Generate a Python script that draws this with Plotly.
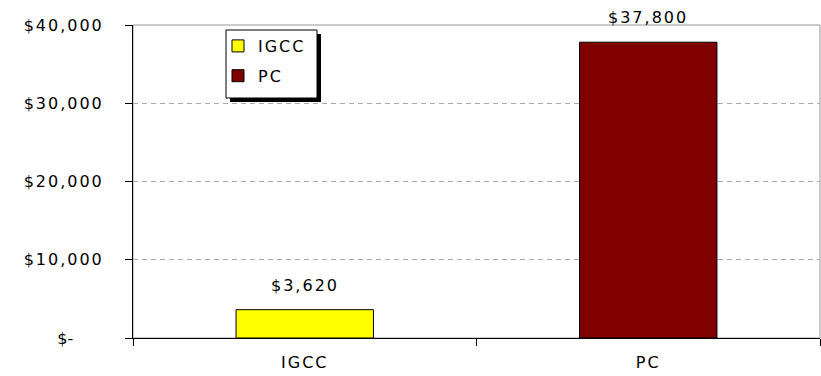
import plotly.graph_objects as go

# Cost comparison, in dollars
categories = ["IGCC", "PC"]
values = [3620, 37800]
bar_colors = ["#FFFF00", "#800000"]
value_labels = ["$3,620", "$37,800"]

y_tickvals = [0, 10000, 20000, 30000, 40000]
y_ticktext = ["$-\u2007\u2007\u2007", "$10,000", "$20,000", "$30,000", "$40,000"]

FONT = "DejaVu Sans"
FS = 16
W, H = 821, 376
L, R, T, B = 133, 1, 25, 38

fig = go.Figure()
for i, (cat, val, col) in enumerate(zip(categories, values, bar_colors)):
    fig.add_trace(go.Bar(
        x=[cat], y=[val], name=cat, width=0.4,
        marker=dict(color=col, line=dict(color="#000000", width=1)),
        legendgroup=f"g{i}",
    ))

for cat, val, lab in zip(categories, values, value_labels):
    fig.add_annotation(x=cat, y=val, text=lab, showarrow=False,
                       yanchor="bottom", yshift=13,
                       font=dict(family=FONT, size=FS, color="#000000"))

pw = W - L - R
ph = H - T - B

def px_x(p):
    return (p - L) / pw

def px_y(p):
    return (H - B - p) / ph

# legend frame with drop shadow
fig.add_shape(type="rect", xref="paper", yref="paper",
              x0=px_x(230), x1=px_x(321), y0=px_y(102), y1=px_y(34),
              fillcolor="#000000", line=dict(width=0), layer="above")
fig.add_shape(type="rect", xref="paper", yref="paper",
              x0=px_x(226), x1=px_x(317), y0=px_y(98), y1=px_y(30),
              fillcolor="#ffffff", line=dict(color="#000000", width=1), layer="above")

# grey frame on top/right of the plot area
fig.add_shape(type="rect", xref="paper", yref="paper", x0=0, x1=1, y0=0, y1=1,
              line=dict(color="#999999", width=1), layer="below")

fig.update_layout(
    width=W, height=H,
    margin=dict(l=L, r=R, t=T, b=B, pad=0),
    paper_bgcolor="white", plot_bgcolor="white",
    barmode="overlay",
    font=dict(family=FONT, size=FS, color="#000000"),
    showlegend=True,
    legend=dict(x=px_x(218), y=px_y(29), xanchor="left", yanchor="top",
                bgcolor="rgba(0,0,0,0)", borderwidth=0,
                traceorder="grouped", tracegroupgap=6, itemwidth=30,
                font=dict(family=FONT, size=FS, color="#000000")),
    xaxis=dict(type="category", showline=True, linecolor="#000000", linewidth=1,
               ticks="outside", tickson="boundaries", ticklen=7, tickcolor="#000000",
               showgrid=False, ticklabelstandoff=10,
               tickfont=dict(family=FONT, size=FS)),
    yaxis=dict(range=[0, 40000], tickvals=y_tickvals, ticktext=y_ticktext,
               showline=True, linecolor="#000000", linewidth=1,
               ticks="outside", ticklen=7, tickcolor="#000000",
               showgrid=True, gridcolor="#aaaaaa", griddash="5px,4px", gridwidth=1,
               zeroline=False, ticklabelstandoff=18,
               tickfont=dict(family=FONT, size=FS)),
)

# slightly widened letter spacing for chart text (padded labels keep their layout)
spacing_js = """
document.querySelectorAll('.main-svg text').forEach(function (t) {
    if (t.textContent.indexOf('\\u2007') < 0) {
        t.setAttribute('letter-spacing', '2px');
    }
});
"""

fig.write_html("out.html", post_script=spacing_js)
